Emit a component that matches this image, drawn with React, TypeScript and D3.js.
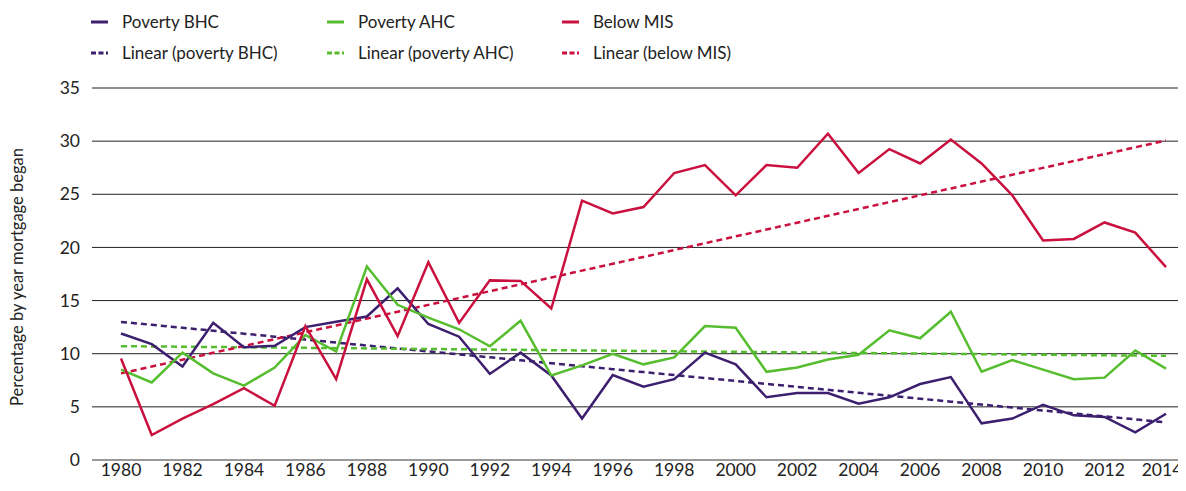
import React from 'react';
import * as d3 from 'd3';

// years the mortgage began
const years: number[] = d3.range(1980, 2015);

const povertyBHC: number[] = [
  11.9, 10.9, 8.8, 12.9, 10.6, 10.75, 12.5, 13.0, 13.5, 16.15,
  12.8, 11.6, 8.1, 10.1, 7.95, 3.9, 8.0, 6.9, 7.6, 10.1,
  9.0, 5.9, 6.3, 6.3, 5.3, 5.9, 7.15, 7.8, 3.45, 3.9,
  5.2, 4.2, 4.05, 2.6, 4.35,
];

const povertyAHC: number[] = [
  8.5, 7.3, 10.1, 8.15, 7.0, 8.7, 11.75, 10.2, 18.2, 14.6,
  13.4, 12.3, 10.7, 13.1, 7.95, 8.9, 10.0, 9.0, 9.65, 12.6,
  12.45, 8.3, 8.7, 9.45, 9.9, 12.2, 11.45, 13.95, 8.3, 9.4,
  8.5, 7.6, 7.75, 10.3, 8.6,
];

const belowMIS: number[] = [
  9.55, 2.35, 3.9, 5.25, 6.75, 5.1, 12.6, 7.6, 17.0, 11.65,
  18.6, 12.9, 16.9, 16.85, 14.25, 24.4, 23.2, 23.8, 27.0, 27.75,
  24.9, 27.75, 27.5, 30.7, 27.0, 29.25, 27.9, 30.15, 27.9, 24.9,
  20.65, 20.8, 22.35, 21.4, 18.15,
];

const yTicks: number[] = [0, 5, 10, 15, 20, 25, 30, 35];
const xTickYears: number[] = d3.range(1980, 2015, 2);

const seriesNames = ['Poverty BHC', 'Poverty AHC', 'Below MIS'];
const trendNames = ['Linear (poverty BHC)', 'Linear (poverty AHC)', 'Linear (below MIS)'];
const colors = ['#3c1f6e', '#55bd2e', '#c9103f'];

// least squares trend line, like Excel's "Linear" trendline
function linearFit(values: number[]): number[] {
  const n = values.length;
  const xs = values.map((_, i) => i);
  const mx = d3.mean(xs) as number;
  const my = d3.mean(values) as number;
  let num = 0, den = 0;
  for (let i = 0; i < n; i++) {
    num += (xs[i] - mx) * (values[i] - my);
    den += (xs[i] - mx) * (xs[i] - mx);
  }
  const slope = num / den;
  return xs.map((x) => my + slope * (x - mx));
}

export default function App() {
  const width = 1186, height = 491;
  const font = 'Lato, "Noto Sans", sans-serif';

  const x = d3.scalePoint<number>().domain(years).range([121, 1166]);
  const y = d3.scaleLinear().domain([0, 35]).range([460, 88]);
  const gridLeft = 92, gridRight = 1183;

  const line = d3.line<number>()
    .x((_, i) => x(years[i]) as number)
    .y((d) => y(d));

  const data = [povertyBHC, povertyAHC, belowMIS];

  const legendCols = [91, 327, 562];
  const legendRows = [22, 53];

  return (
    <div style={{ margin: -8 }}>
      <svg width={width} height={height} style={{ display: 'block', background: '#fff' }} fontFamily={font}>
        {/* gridlines */}
        {yTicks.map((t) => (
          <g key={t}>
            <line x1={gridLeft} x2={gridRight} y1={y(t)} y2={y(t)}
              stroke={t === 0 ? '#777' : '#222'} strokeWidth={t === 0 ? 1.5 : 1} />
            <text x={80} y={y(t)} dy="0.35em" textAnchor="end" fontSize={17.5} fill="#222">{t}</text>
          </g>
        ))}
        {xTickYears.map((yr) => (
          <text key={yr} x={Math.min(x(yr) as number, 1162)} y={476} textAnchor="middle" fontSize={17.5} fill="#222">{yr}</text>
        ))}
        <text transform={`translate(23,277) rotate(-90)`} textAnchor="middle" fontSize={16.5} fill="#222">
          Percentage by year mortgage began
        </text>

        {/* trend lines */}
        {data.map((d, i) => (
          <path key={'t' + i} d={line(linearFit(d)) || ''} fill="none" stroke={colors[i]}
            strokeWidth={2.5} strokeDasharray="6,4" />
        ))}
        {/* series */}
        {data.map((d, i) => (
          <path key={'s' + i} d={line(d) || ''} fill="none" stroke={colors[i]}
            strokeWidth={2.5} strokeLinejoin="miter" />
        ))}

        {/* legend */}
        {seriesNames.map((name, i) => (
          <g key={name} transform={`translate(${legendCols[i]},${legendRows[0]})`}>
            <line x1={0} x2={17} y1={0} y2={0} stroke={colors[i]} strokeWidth={3} />
            <text x={31} y={0} dy="0.35em" fontSize={17} fill="#222">{name}</text>
          </g>
        ))}
        {trendNames.map((name, i) => (
          <g key={name} transform={`translate(${legendCols[i]},${legendRows[1]})`}>
            <line x1={0} x2={17} y1={0} y2={0} stroke={colors[i]} strokeWidth={3} strokeDasharray="5,2.5" />
            <text x={31} y={0} dy="0.35em" fontSize={17} fill="#222">{name}</text>
          </g>
        ))}
      </svg>
    </div>
  );
}
